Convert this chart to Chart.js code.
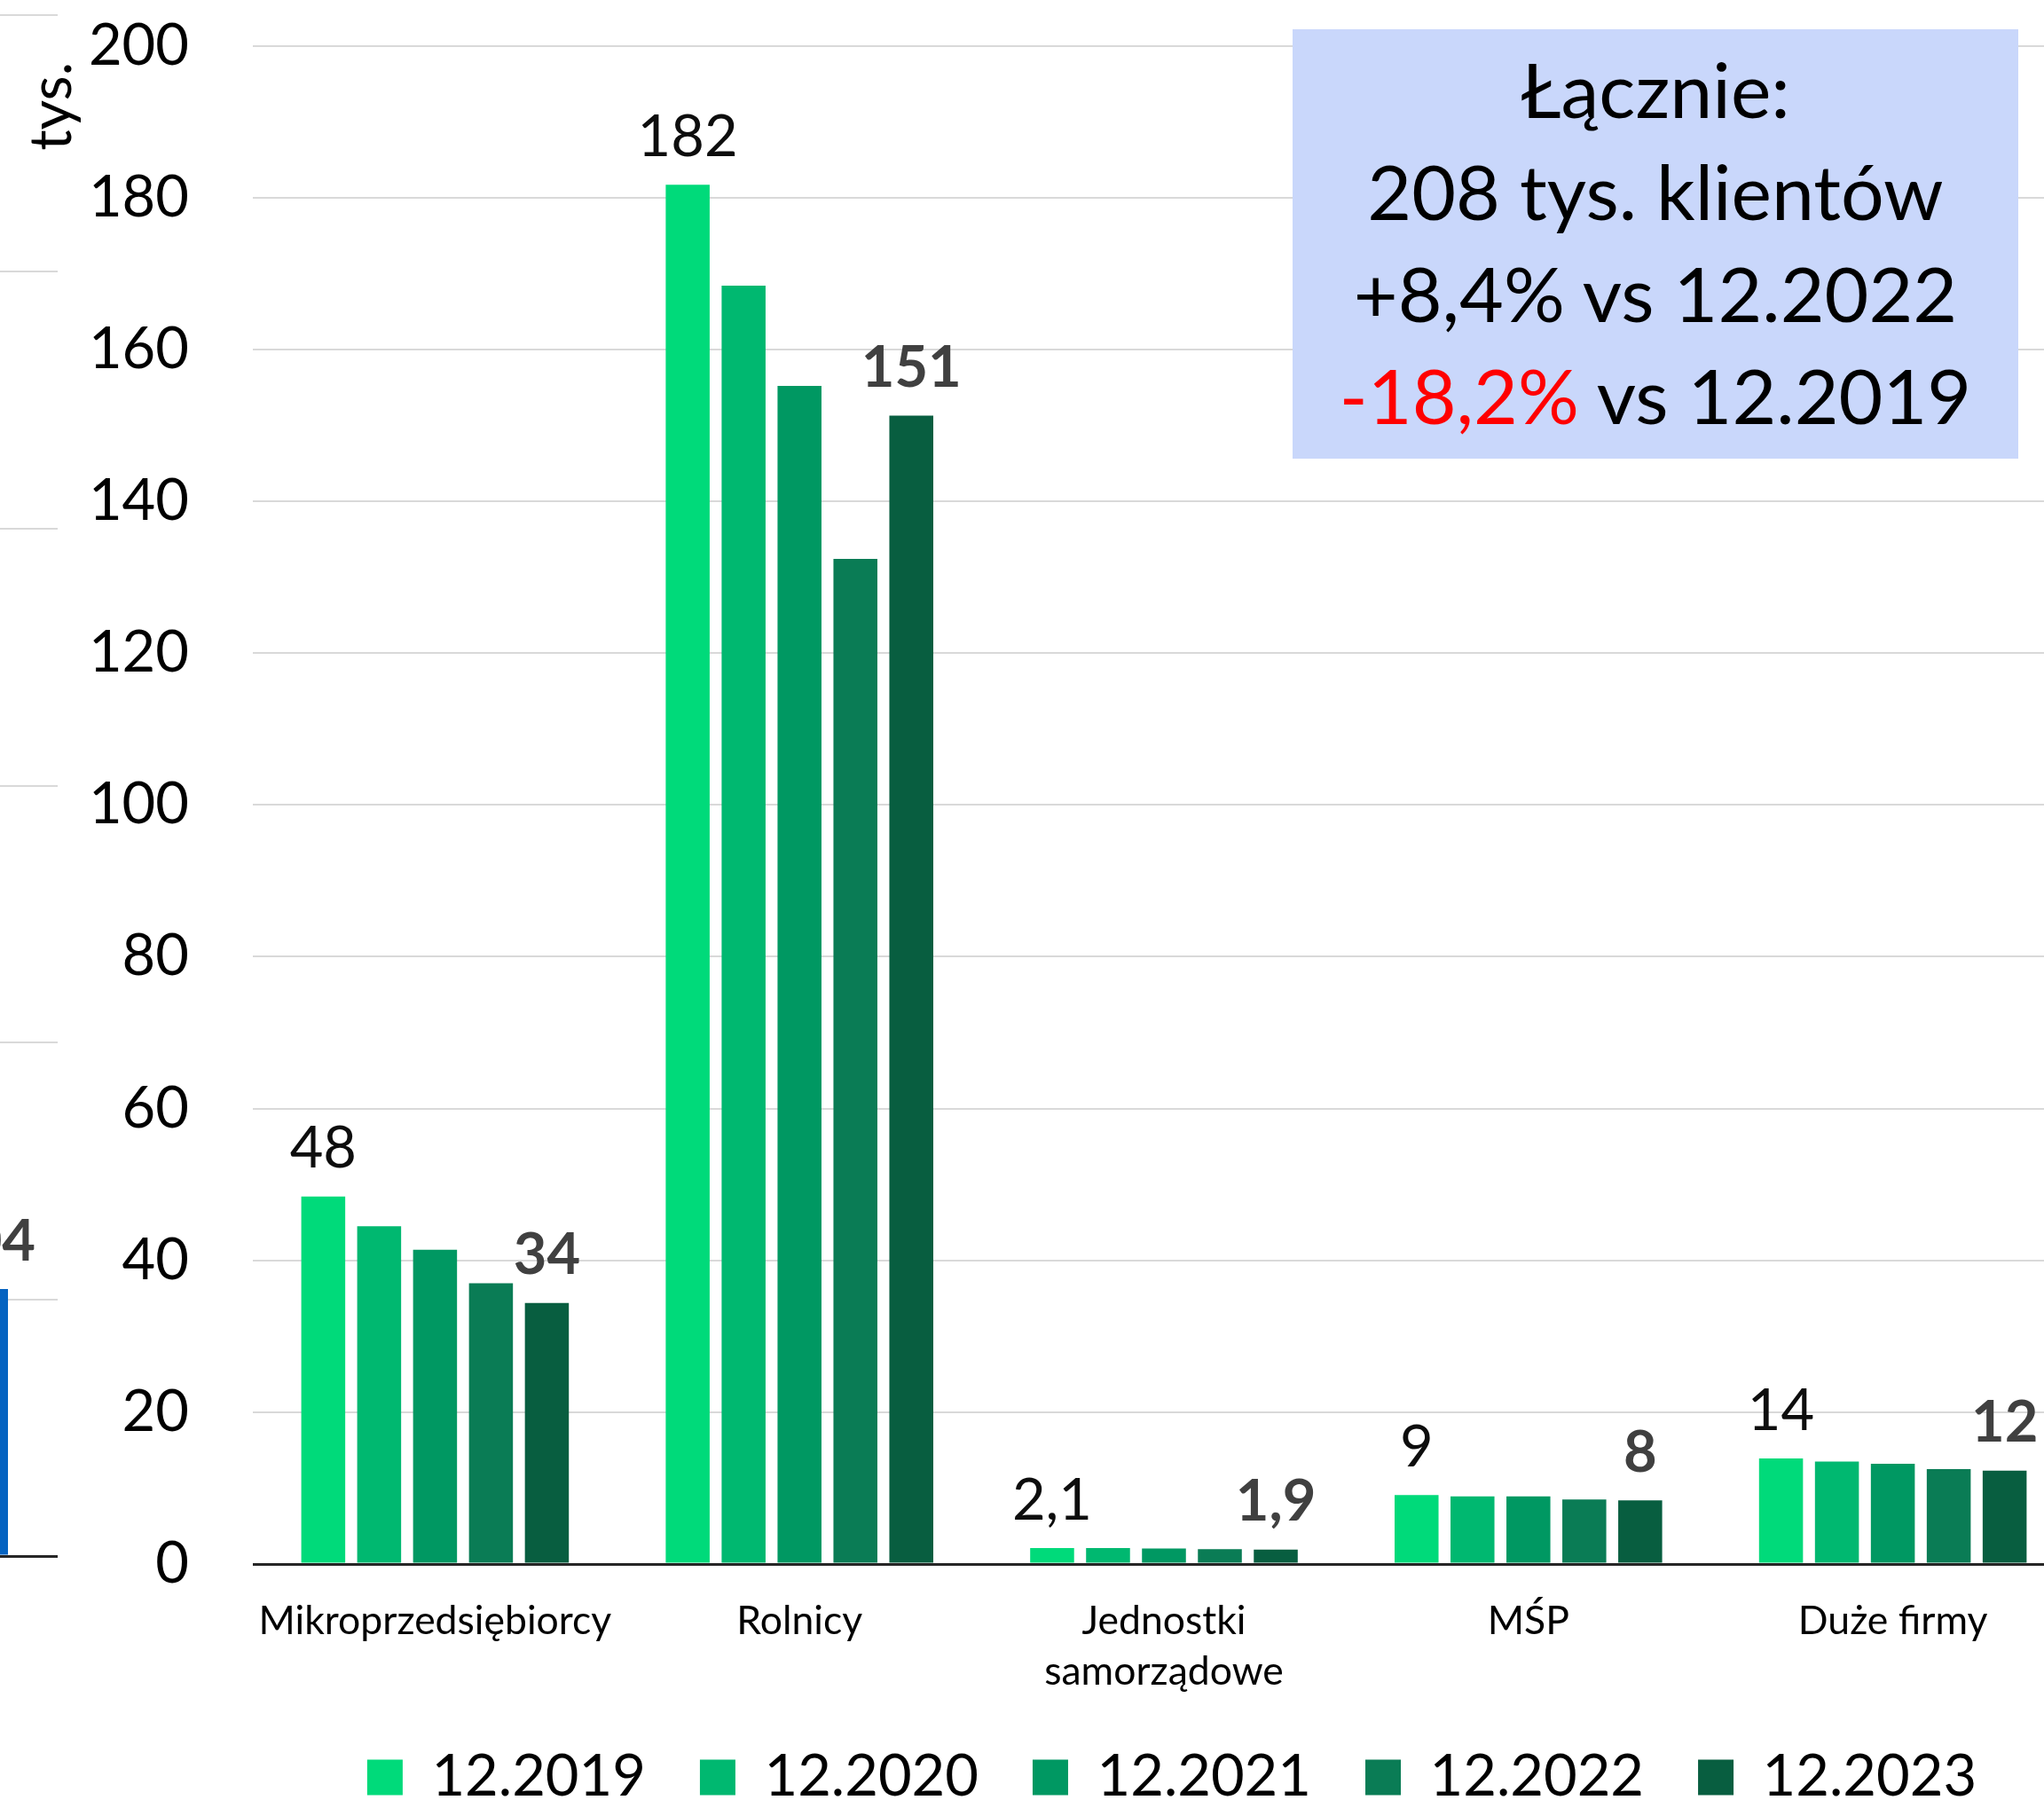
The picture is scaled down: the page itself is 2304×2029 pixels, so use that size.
<!DOCTYPE html>
<html><head><meta charset="utf-8">
<script src="https://cdn.jsdelivr.net/npm/chart.js@4"></script>
<style>
html,body{margin:0;padding:0;background:#fff;overflow:hidden;width:2304px;height:2029px;}
#wrap{position:relative;width:2304px;height:2029px;overflow:hidden;}
#main{position:absolute;left:0;top:0;}
#left{position:absolute;left:-335px;top:0;}
#note{position:absolute;left:1457px;top:33px;width:818px;height:484px;background:#C9D7FB;font-family:Lato,sans-serif;font-size:86px;line-height:115px;text-align:center;color:#000;padding-top:9px;box-sizing:border-box;white-space:nowrap;}
#note .neg{color:#FF0000;}
</style></head>
<body><div id="wrap">
<canvas id="left" width="400" height="1800"></canvas>
<canvas id="main" width="2642" height="2046"></canvas>
<div id="note">Łącznie:<br>208 tys. klientów<br>+8,4% vs 12.2022<br><span class="neg">-18,2%</span> vs 12.2019</div>
</div>
<script>
// ---- data ----
const categories = ['Mikroprzedsiębiorcy', 'Rolnicy', ['Jednostki', 'samorządowe'], 'MŚP', 'Duże firmy'];
const seriesNames = ['12.2019', '12.2020', '12.2021', '12.2022', '12.2023'];
const s2019 = [48.4, 181.7, 2.1, 9.1, 13.9];
const s2020 = [44.5, 168.4, 2.1, 8.9, 13.5];
const s2021 = [41.4, 155.2, 2.05, 8.9, 13.2];
const s2022 = [37.0, 132.4, 1.95, 8.5, 12.5];
const s2023 = [34.4, 151.3, 1.9, 8.4, 12.3];
const yMin = 0, yMax = 200, yStep = 20;
const unitLabel = 'tys.';
// fragment of the neighbouring chart (cropped at the left edge)
const leftCategories = [''];
const leftValues = [104];
const leftMin = 0, leftMax = 600, leftStep = 100;

const colors = ['#00DA7A', '#00B870', '#009862', '#0A7C55', '#085E40'];
const FONT = 'Lato';

function fmt(v) { return v < 5 ? v.toFixed(1).replace('.', ',') : String(Math.round(v)); }

function makeLabelPlugin(styles, offset) {
  return {
    id: 'valueLabels',
    afterDatasetsDraw(chart) {
      const ctx = chart.ctx;
      chart.data.datasets.forEach((ds, i) => {
        const st = styles[i]; if (!st) return;
        const meta = chart.getDatasetMeta(i);
        ctx.save();
        ctx.font = st.font; ctx.fillStyle = st.color;
        ctx.textAlign = 'center'; ctx.textBaseline = 'alphabetic';
        meta.data.forEach((bar, j) => ctx.fillText(fmt(ds.data[j]), bar.x, bar.y - offset));
        ctx.restore();
      });
    }
  };
}

const unitPlugin = {
  id: 'unitTitle',
  afterDraw(chart) {
    const {ctx, chartArea} = chart;
    ctx.save();
    ctx.translate(chartArea.left - 205, chartArea.top + 118);
    ctx.rotate(-Math.PI / 2);
    ctx.font = '65px ' + FONT; ctx.fillStyle = '#000';
    ctx.textAlign = 'left'; ctx.textBaseline = 'alphabetic';
    ctx.fillText(unitLabel, 0, 0);
    ctx.restore();
  }
};

const gridColor = c => (c.tick && c.tick.value === 0) ? '#262626' : '#D9D9D9';
const gridWidth = c => (c.tick && c.tick.value === 0) ? 3 : 2;

function draw() {
  const allSeries = [s2019, s2020, s2021, s2022, s2023];
  new Chart(document.getElementById('main'), {
    type: 'bar',
    data: {
      labels: categories,
      datasets: seriesNames.map((n, i) => ({
        label: n, data: allSeries[i], backgroundColor: colors[i], borderWidth: 0,
        barPercentage: 0.786, categoryPercentage: 0.767
      }))
    },
    options: {
      responsive: false, animation: false, devicePixelRatio: 1,
      layout: {padding: {top: 51.7, left: 0, right: 0, bottom: 0}},
      plugins: {
        legend: {position: 'bottom', labels: {font: {family: FONT, size: 65}, color: '#000', boxWidth: 40, boxHeight: 40, padding: 61}},
        tooltip: {enabled: false}
      },
      scales: {
        x: {
          grid: {display: false, drawTicks: false}, border: {display: false},
          ticks: {font: {family: FONT, size: 44.5, lineHeight: 1.28}, color: '#000', padding: 36.5, maxRotation: 0, autoSkip: false},
          afterFit(s) { s.height = 147; }
        },
        y: {
          min: yMin, max: yMax,
          ticks: {stepSize: yStep, font: {family: FONT, size: 65}, color: '#000', padding: 72},
          grid: {drawTicks: false, color: gridColor, lineWidth: gridWidth},
          border: {display: false},
          afterFit(s) { s.width = 285; s.paddingTop = 0; s.paddingBottom = 0; }
        },
        yR: {
          type: 'linear', position: 'right', display: true,
          ticks: {display: false}, grid: {display: false, drawTicks: false}, border: {display: false},
          afterFit(s) { s.width = 303; s.paddingTop = 0; s.paddingBottom = 0; }
        }
      }
    },
    plugins: [makeLabelPlugin({0: {font: '65px ' + FONT, color: '#0D0D0D'}, 4: {font: 'bold 65px ' + FONT, color: '#404040'}}, 32.5), unitPlugin]
  });

  new Chart(document.getElementById('left'), {
    type: 'bar',
    data: {labels: leftCategories, datasets: [{data: leftValues, backgroundColor: '#0563C1', borderWidth: 0, barPercentage: 0.391, categoryPercentage: 0.8}]},
    options: {
      responsive: false, animation: false, devicePixelRatio: 1,
      layout: {padding: {top: 17, left: 0, right: 0, bottom: 46}},
      plugins: {legend: {display: false}, tooltip: {enabled: false}},
      scales: {
        x: {display: false},
        y: {
          min: leftMin, max: leftMax,
          ticks: {stepSize: leftStep, display: false},
          grid: {drawTicks: false, color: gridColor, lineWidth: gridWidth},
          border: {display: false},
          afterFit(s) { s.width = 237; s.paddingTop = 0; s.paddingBottom = 0; }
        }
      }
    },
    plugins: [makeLabelPlugin({0: {font: 'bold 65px ' + FONT, color: '#404040'}}, 32)]
  });
}

if (document.fonts && document.fonts.load) {
  Promise.all([document.fonts.load('65px Lato'), document.fonts.load('bold 65px Lato')]).then(draw, draw);
} else { draw(); }
</script>
</body></html>
